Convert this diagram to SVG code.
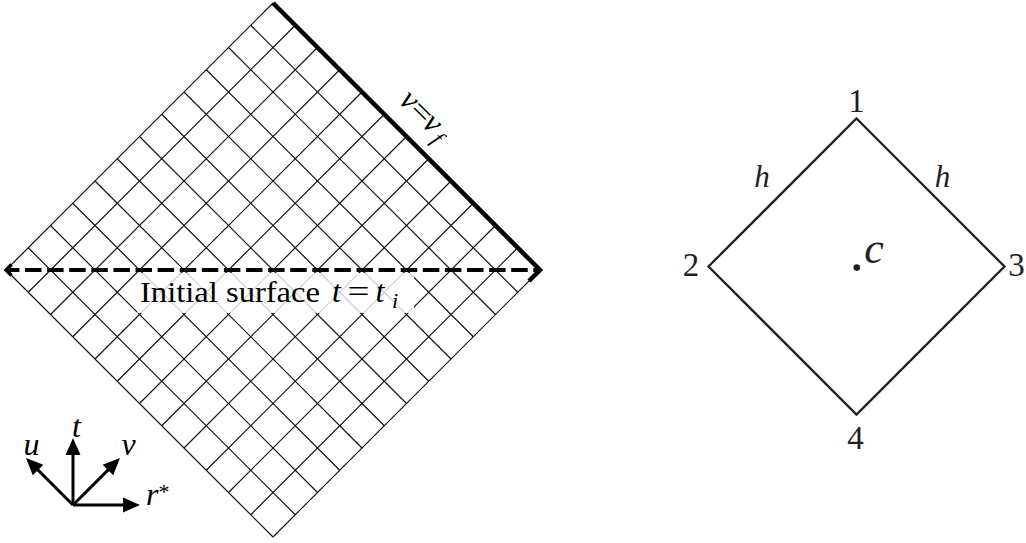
<svg xmlns="http://www.w3.org/2000/svg" width="1026" height="543" viewBox="0 0 1026 543">
<defs>
<style>
.grid{fill:none;stroke:#111;stroke-width:1.2}
.ser{font-family:"Liberation Serif","Times New Roman",serif;fill:#000}
.it{font-style:italic}
.ax{stroke:#000;stroke-width:3;fill:none;marker-end:url(#ah)}
.cell{fill:none;stroke:#231f20;stroke-width:2.3;stroke-linejoin:miter}
.lbl{font-family:"Liberation Serif","Times New Roman",serif;fill:#231f20;text-anchor:middle}
</style>
<marker id="ah" markerUnits="userSpaceOnUse" markerWidth="18" markerHeight="16" refX="7" refY="8" orient="auto">
<path d="M0,0.5 L17,8 L0,15.5 z" fill="#000"/>
</marker>
</defs>
<rect width="1026" height="543" fill="#fff"/>

<g id="grid">
<path class="grid" d="M6,270 L273,3 M28.25,292.25 L295.25,25.25 M50.5,314.5 L317.5,47.5 M72.75,336.75 L339.75,69.75 M95,359 L362,92 M117.25,381.25 L384.25,114.25 M139.5,403.5 L406.5,136.5 M161.75,425.75 L428.75,158.75 M184,448 L451,181 M206.25,470.25 L473.25,203.25 M228.5,492.5 L495.5,225.5 M250.75,514.75 L517.75,247.75 M273,537 L540,270"/>
<path class="grid" d="M6,270 L273,537 M28.25,247.75 L295.25,514.75 M50.5,225.5 L317.5,492.5 M72.75,203.25 L339.75,470.25 M95,181 L362,448 M117.25,158.75 L384.25,425.75 M139.5,136.5 L406.5,403.5 M161.75,114.25 L428.75,381.25 M184,92 L451,359 M206.25,69.75 L473.25,336.75 M228.5,47.5 L495.5,314.5 M250.75,25.25 L517.75,292.25"/>
</g>

<g id="final-surface">
<path d="M273,3 L540,270 L529,281" fill="none" stroke="#000" stroke-width="4.5" stroke-linejoin="miter" stroke-miterlimit="10"/>
<g transform="translate(419,123) rotate(45)" class="ser it">
<text x="-23" y="0" font-size="32" text-anchor="middle">v</text>
<text x="-6" y="0" font-size="31" text-anchor="middle" font-style="normal" textLength="20" lengthAdjust="spacingAndGlyphs">=</text>
<text x="10" y="0" font-size="32" text-anchor="middle">v</text>
<text x="24" y="5" font-size="22" text-anchor="middle">f</text>
</g>
</g>

<g id="initial-surface">
<path d="M6,270 L540,270" fill="none" stroke="#000" stroke-width="4" stroke-dasharray="16.5 5.6" stroke-dashoffset="3.1"/>
<path d="M11.5,264.5 L6,270 L11.5,275.5" fill="none" stroke="#000" stroke-width="3.5" stroke-linejoin="miter"/>
<rect x="137" y="273" width="277" height="40" fill="#fff" opacity="0.8"/>
<text class="ser" x="140" y="302" font-size="30" textLength="180" lengthAdjust="spacingAndGlyphs">Initial surface</text>
<text class="ser it" x="336.5" y="302" font-size="32" text-anchor="middle">t</text>
<text class="ser" x="358.5" y="302" font-size="31" text-anchor="middle" textLength="22" lengthAdjust="spacingAndGlyphs">=</text>
<text class="ser it" x="380" y="302" font-size="32" text-anchor="middle">t</text>
<text class="ser it" x="395" y="308" font-size="22" text-anchor="middle">i</text>
</g>

<g id="axes">
<line class="ax" x1="73" y1="505" x2="73" y2="448"/>
<line class="ax" x1="73" y1="505" x2="130" y2="505"/>
<line class="ax" x1="73" y1="505" x2="33.1" y2="465.1"/>
<line class="ax" x1="73" y1="505" x2="112.9" y2="465.1"/>
<text class="ser it" x="76.5" y="437" font-size="32" text-anchor="middle">t</text>
<text class="ser it" x="31.5" y="455" font-size="32" text-anchor="middle">u</text>
<text class="ser it" x="128.5" y="455" font-size="32" text-anchor="middle">v</text>
<text class="ser it" x="146" y="505" font-size="32">r</text>
<text class="ser" x="158.5" y="499" font-size="22">*</text>
</g>

<g id="cell">
<path class="cell" d="M856.5,118.5 L1004.5,266.5 L856.5,414.5 L708.5,266.5 Z"/>
<circle cx="856.8" cy="267.6" r="3.3" fill="#231f20"/>
</g>
<g id="label-1"><text class="lbl" x="856.5" y="112" font-size="33">1</text></g>
<g id="label-2"><text class="lbl" x="691" y="276" font-size="33">2</text></g>
<g id="label-3"><text class="lbl" x="1016.5" y="276" font-size="33">3</text></g>
<g id="label-4"><text class="lbl" x="855.5" y="449" font-size="33">4</text></g>
<g id="label-h-left"><text class="lbl" x="762" y="187" font-style="italic" font-size="31">h</text></g>
<g id="label-h-right"><text class="lbl" x="942.5" y="187" font-style="italic" font-size="31">h</text></g>
<g id="label-c"><text class="lbl" x="874" y="263" font-style="italic" font-size="44">c</text></g>
</svg>
